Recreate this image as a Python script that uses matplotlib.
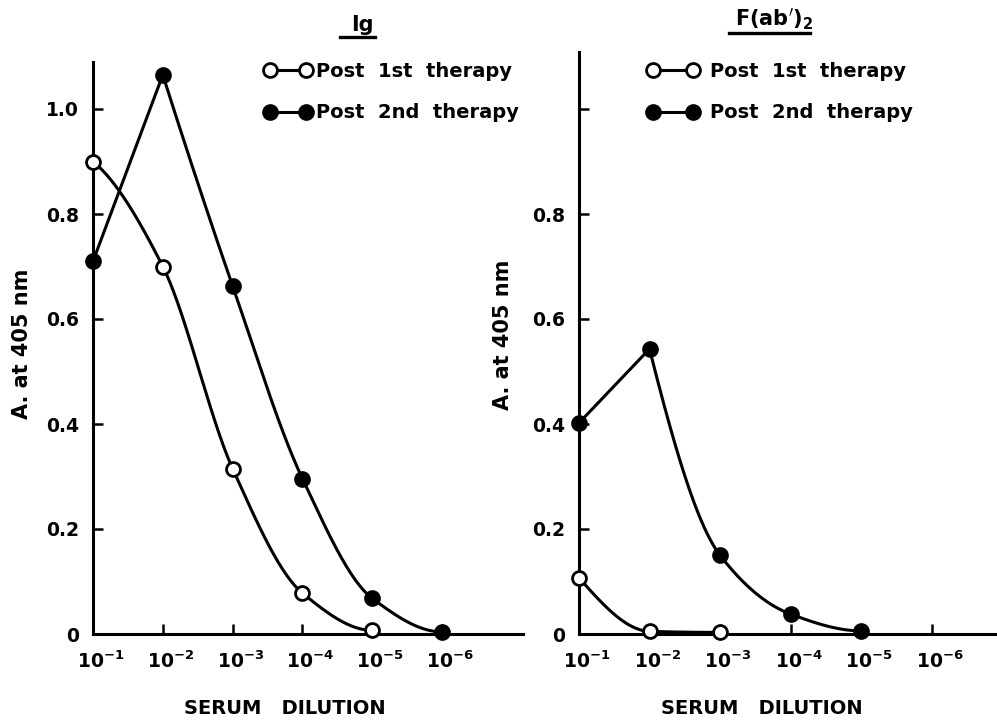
import numpy as np
import matplotlib
matplotlib.use("Agg")
import matplotlib.pyplot as plt
import matplotlib.transforms as mtransforms
from matplotlib.lines import Line2D

plt.rcParams['font.family'] = ['DejaVu Sans']
plt.rcParams['font.weight'] = 'bold'

# ---------------- data ----------------
dilutions = [1e-1, 1e-2, 1e-3, 1e-4, 1e-5, 1e-6]
dilution_labels = ["10$^{-1}$", "10$^{-2}$", "10$^{-3}$", "10$^{-4}$", "10$^{-5}$", "10$^{-6}$"]

ig_post1_x = [1e-1, 1e-2, 1e-3, 1e-4, 1e-5]
ig_post1_y = [0.90, 0.70, 0.315, 0.078, 0.007]
ig_post2_x = [1e-1, 1e-2, 1e-3, 1e-4, 1e-5, 1e-6]
ig_post2_y = [0.71, 1.065, 0.663, 0.296, 0.068, 0.004]

fab_post1_x = [1e-1, 1e-2, 1e-3]
fab_post1_y = [0.107, 0.005, 0.003]
fab_post2_x = [1e-1, 1e-2, 1e-3, 1e-4, 1e-5]
fab_post2_y = [0.402, 0.543, 0.150, 0.038, 0.006]

y_ticks = [0, 0.2, 0.4, 0.6, 0.8, 1.0]
left_ytick_labels = ["0", "0.2", "0.4", "0.6", "0.8", "1.0"]
right_ytick_labels = ["0", "0.2", "0.4", "0.6", "0.8", ""]

series_labels = ["Post  1st  therapy", "Post  2nd  therapy"]
titles = ["Ig", "F(ab$'$)$_2$"]
xlabel = "SERUM   DILUTION"
ylabel = "A. at 405 nm"


def pchip(x, y, n=200):
    """Monotone cubic (Fritsch-Carlson) smoothing for drawing the curve."""
    x = np.asarray(x, float); y = np.asarray(y, float)
    h = np.diff(x); d = np.diff(y) / h
    m = np.zeros_like(y)
    for k in range(1, len(x) - 1):
        if d[k - 1] * d[k] > 0:
            w1 = 2 * h[k] + h[k - 1]; w2 = h[k] + 2 * h[k - 1]
            m[k] = (w1 + w2) / (w1 / d[k - 1] + w2 / d[k])
    def endslope(h0, h1, d0, d1):
        s = ((2 * h0 + h1) * d0 - h0 * d1) / (h0 + h1)
        if np.sign(s) != np.sign(d0):
            s = 0.0
        elif np.sign(d0) != np.sign(d1) and abs(s) > abs(3 * d0):
            s = 3 * d0
        return s
    if len(x) > 2:
        m[0] = endslope(h[0], h[1], d[0], d[1])
        m[-1] = endslope(h[-1], h[-2], d[-1], d[-2])
    else:
        m[0] = m[-1] = d[0]
    xs, ys = [], []
    for k in range(len(x) - 1):
        t = np.linspace(0, 1, n)
        h00 = 2*t**3 - 3*t**2 + 1; h10 = t**3 - 2*t**2 + t
        h01 = -2*t**3 + 3*t**2; h11 = t**3 - t**2
        xs.append(x[k] + t * h[k])
        ys.append(h00*y[k] + h10*h[k]*m[k] + h01*y[k+1] + h11*h[k]*m[k+1])
    return np.concatenate(xs), np.concatenate(ys)


def draw_curve(ax, xv, yv, straight_first=False):
    lx = -np.log10(xv)
    yv = np.asarray(yv, float)
    if straight_first:
        ax.plot(xv[:2], yv[:2], color='black', lw=2.2, zorder=2, solid_capstyle='round')
        sx, sy = pchip(lx[1:], yv[1:])
    else:
        sx, sy = pchip(lx, yv)
    ax.plot(10 ** (-sx), np.clip(sy, 0, None), color='black', lw=2.2, zorder=2)


fig = plt.figure(figsize=(9.97, 7.25), dpi=100)

axL = fig.add_axes([93/997, 1 - 634/725, (523 - 93)/997, (634 - 62)/725])
axR = fig.add_axes([579/997, 1 - 634/725, (997 - 579)/997, (634 - 52)/725])

panels = [
    (axL, ig_post1_x, ig_post1_y, ig_post2_x, ig_post2_y, (634 - 62)/525, 1 + (523 - 93)/69.8, left_ytick_labels),
    (axR, fab_post1_x, fab_post1_y, fab_post2_x, fab_post2_y, (634 - 52)/525, 1 + (997 - 579)/70.5, right_ytick_labels),
]

offset = mtransforms.ScaledTranslation(8/100, 0, fig.dpi_scale_trans)

for ax, p1x, p1y, p2x, p2y, ytop, xend, ylabs in panels:
    ax.set_xscale('log')
    ax.set_xlim(10 ** -1, 10 ** (-xend))
    ax.set_ylim(0, ytop)
    draw_curve(ax, p1x, p1y)
    draw_curve(ax, p2x, p2y, straight_first=True)
    ax.plot(p1x, p1y, 'o', ms=10, mfc='white', mec='black', mew=2.0, zorder=3, clip_on=False)
    ax.plot(p2x, p2y, 'o', ms=10, mfc='black', mec='black', mew=2.0, zorder=3, clip_on=False)
    for s in ['top', 'right']:
        ax.spines[s].set_visible(False)
    for s in ['left', 'bottom']:
        ax.spines[s].set_linewidth(2.2)
    ax.set_xticks(dilutions)
    ax.set_xticklabels(dilution_labels)
    ax.minorticks_off()
    ax.set_yticks(y_ticks)
    ax.set_yticklabels(ylabs)
    ax.tick_params(axis='x', direction='in', length=7, width=1.8, pad=12, labelsize=13.5)
    ax.tick_params(axis='y', direction='in', length=7, width=1.8, pad=10, labelsize=13.5)
    for lbl in ax.get_xticklabels():
        lbl.set_fontweight('bold')
        lbl.set_transform(lbl.get_transform() + offset)
    for lbl in ax.get_yticklabels():
        lbl.set_fontweight('bold')

# axis labels
fig.text(22/997, 1 - 344/725, ylabel, rotation=90, ha='center', va='center', fontsize=15, fontweight='bold')
fig.text(503/997, 1 - 335/725, ylabel, rotation=90, ha='center', va='center', fontsize=15, fontweight='bold')
fig.text(285/997, 1 - 708/725, xlabel, ha='center', va='center', fontsize=14, fontweight='bold')
fig.text(762/997, 1 - 708/725, xlabel, ha='center', va='center', fontsize=14, fontweight='bold')

# titles with underline
fig.text(362/997, 1 - 25/725, titles[0], ha='center', va='center', fontsize=15, fontweight='bold')
fig.add_artist(Line2D([340/997, 375/997], [1 - 37/725, 1 - 37/725], color='black', lw=2.4))
fig.text(774/997, 1 - 19/725, titles[1], ha='center', va='center', fontsize=15, fontweight='bold')
fig.add_artist(Line2D([729/997, 810/997], [1 - 33/725, 1 - 33/725], color='black', lw=2.4))

# legends
for ax, anchor, hl, tp in [(axL, (264/997, 1 - 62/725), 2.46, 0.2), (axR, (647/997, 1 - 62/725), 2.66, 0.6)]:
    h1 = Line2D([], [], color='black', lw=2.2, marker='o', ms=10, mfc='white', mec='black', mew=2.0)
    h2 = Line2D([], [], color='black', lw=2.2, marker='o', ms=10, mfc='black', mec='black', mew=2.0)
    ax.legend([h1, h2], series_labels, loc='upper left', bbox_to_anchor=anchor,
              bbox_transform=fig.transFigure, frameon=False, numpoints=2,
              handlelength=hl, handletextpad=tp, labelspacing=1.15,
              borderaxespad=0, borderpad=0, prop={'size': 14, 'weight': 'bold'})

fig.savefig('out.png', dpi=100)
